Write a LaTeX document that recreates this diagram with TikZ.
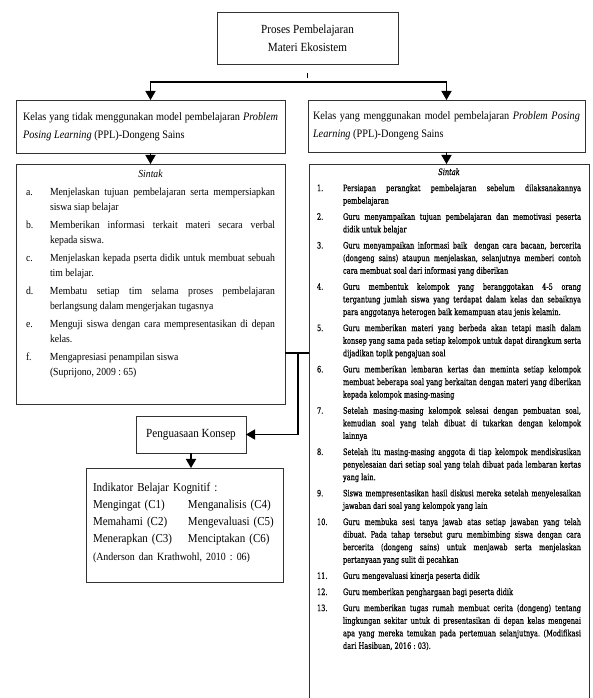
\documentclass[tikz,border=0pt]{standalone}
\usepackage{fontspec}
\setmainfont[FakeStretch=0.9]{Liberation Serif}
\newfontfamily\sintakfont[FakeStretch=0.75,FakeBold=0.6]{DejaVu Serif}
\usetikzlibrary{arrows,positioning}
\frenchspacing
\tikzstyle{box}=[rectangle,draw=black!80,line width=0.9pt,inner sep=0pt,outer sep=0pt]
\tikzstyle{judul}=[box,align=center,font=\fontsize{12.4}{18}\selectfont]
\tikzstyle{kepala}=[box,anchor=north west,align=justify,font=\fontsize{11.4}{18}\selectfont]
\tikzstyle{daftar}=[box,anchor=north west,align=justify,inner ysep=0pt]
\tikzstyle{panah}=[-triangle 60,line width=1.5pt]
\tikzstyle{garis}=[line width=1.5pt]
\newlength{\lblw}
\newcommand{\butir}[2]{\par\noindent\hangindent=\lblw\hangafter=1\makebox[\lblw][l]{#1}\ignorespaces#2\par}

\begin{document}
\begin{tikzpicture}[x=1pt,y=-1pt]
\useasboundingbox (0,0) rectangle (593,698);

\node[judul,minimum width=181pt,minimum height=52pt] (proses) at (307.5,38) {Proses Pembelajaran\\Materi Ekosistem};

\node[kepala,text width=255pt,inner xsep=7pt,minimum height=53pt] (kelaskontrol) at (16,100) {Kelas yang tidak menggunakan model pembelajaran \textit{Problem}\linebreak \textit{Posing Learning} (PPL)-Dongeng Sains};
\node[kepala,text width=267pt,inner xsep=5pt,minimum height=52pt] (kelaseksperimen) at (308,100) {Kelas yang menggunakan model pembelajaran \textit{Problem Posing}\linebreak \textit{Learning} (PPL)-Dongeng Sains};

% sintak kelas kontrol
\node[daftar,text width=249pt,inner xsep=10pt,text height=13pt,text depth=227pt,
  font=\fontsize{10.8}{14.5}\selectfont\setlength{\parskip}{4pt}\setlength{\lblw}{24pt}] (sintakkontrol) at (16,164) {%
  {\noindent\centering\itshape Sintak\par}
  \butir{a.}{Menjelaskan tujuan pembelajaran serta mempersiapkan\linebreak siswa siap belajar}
  \butir{b.}{Memberikan informasi terkait materi secara verbal\linebreak kepada siswa.}
  \butir{c.}{Menjelaskan kepada pserta didik untuk membuat sebuah\linebreak tim belajar.}
  \butir{d.}{Membatu setiap tim selama proses pembelajaran\linebreak berlangsung dalam mengerjakan tugasnya}
  \butir{e.}{Menguji siswa dengan cara mempresentasikan di depan\linebreak kelas.}
  \butir{f.}{Mengapresiasi penampilan siswa\\(Suprijono, 2009 : 65)}};

% sintak kelas eksperimen
\node[daftar,text width=264pt,inner xsep=8pt,text height=11pt,text depth=560pt,
  font=\sintakfont\fontsize{8.8}{12.6}\selectfont\setlength{\parskip}{3.5pt}\setlength{\lblw}{26pt}] (sintakeksperimen) at (309,164) {%
  {\noindent\centering\itshape Sintak\par}
  \butir{1.}{Persiapan perangkat pembelajaran sebelum dilaksanakannya\linebreak pembelajaran}
  \butir{2.}{Guru menyampaikan tujuan pembelajaran dan memotivasi peserta\linebreak didik untuk belajar}
  \butir{3.}{Guru menyampaikan informasi baik\ \ dengan cara bacaan, bercerita\linebreak (dongeng sains) ataupun menjelaskan, selanjutnya memberi contoh\linebreak cara membuat soal dari informasi yang diberikan}
  \butir{4.}{Guru membentuk kelompok yang beranggotakan 4-5 orang\linebreak tergantung jumlah siswa yang terdapat dalam kelas dan sebaiknya\linebreak para anggotanya heterogen baik kemampuan atau jenis kelamin.}
  \butir{5.}{Guru memberikan materi yang berbeda akan tetapi masih dalam\linebreak konsep yang sama pada setiap kelompok untuk dapat dirangkum serta\linebreak dijadikan topik pengajuan soal}
  \butir{6.}{Guru memberikan lembaran kertas dan meminta setiap kelompok\linebreak membuat beberapa soal yang berkaitan dengan materi yang diberikan\linebreak kepada kelompok masing-masing}
  \butir{7.}{Setelah masing-masing kelompok selesai dengan pembuatan soal,\linebreak kemudian soal yang telah dibuat di tukarkan dengan kelompok\linebreak lainnya}
  \butir{8.}{Setelah itu masing-masing anggota di tiap kelompok mendiskusikan\linebreak penyelesaian dari setiap soal yang telah dibuat pada lembaran kertas\linebreak yang lain.}
  \butir{9.}{Siswa mempresentasikan hasil diskusi mereka setelah menyelesaikan\linebreak jawaban dari soal yang kelompok yang lain}
  \butir{10.}{Guru membuka sesi tanya jawab atas setiap jawaban yang telah\linebreak dibuat. Pada tahap tersebut guru membimbing siswa dengan cara\linebreak bercerita (dongeng sains) untuk menjawab serta menjelaskan\linebreak pertanyaan yang sulit di pecahkan}
  \butir{11.}{Guru mengevaluasi kinerja peserta didik}
  \butir{12.}{Guru memberikan penghargaan bagi peserta didik}
  \butir{13.}{Guru memberikan tugas rumah membuat cerita (dongeng) tentang\linebreak lingkungan sekitar untuk di presentasikan di depan kelas mengenai\linebreak apa yang mereka temukan pada pertemuan selanjutnya. (Modifikasi\linebreak dari Hasibuan, 2016 : 03).}};

\node[box,minimum width=110pt,minimum height=37pt,font=\fontsize{12.4}{15}\selectfont] (konsep) at (191,434.5) {Penguasaan Konsep};

\node[box,anchor=north west,align=left,text width=183pt,inner xsep=7pt,inner ysep=0pt,text height=23pt,text depth=91pt,
  font=\fontsize{12.2}{17.3}\selectfont] (indikator) at (86,468) {Indikator Belajar Kognitif :\\
  \makebox[95pt][l]{Mengingat (C1)}Menganalisis (C4)\\
  \makebox[95pt][l]{Memahami (C2)}Mengevaluasi (C5)\\
  \makebox[95pt][l]{Menerapkan (C3)}Menciptakan (C6)\\
  {\fontsize{11}{17.3}\selectfont (Anderson dan Krathwohl, 2010 : 06)}};

% connectors
\coordinate (cabang) at (307.5,82);
\coordinate (gabung) at (298,353);
\draw[line width=0.8pt] (proses.south) ++(0,9) -- ++(0,5);
\draw[panah] (cabang) -| (kelaskontrol.north);
\draw[panah] (cabang) -| (kelaseksperimen.north);
\draw[panah] (kelaskontrol.south) -- (sintakkontrol.north);
\draw[panah] (kelaseksperimen.south) -- (kelaseksperimen.south |- sintakeksperimen.north);
\draw[garis] (sintakkontrol.east |- gabung) -- (sintakeksperimen.west |- gabung);
\draw[panah] (gabung) |- (konsep.east);
\draw[panah] (konsep.south) -- (konsep.south |- indikator.north);

\end{tikzpicture}
\end{document}
